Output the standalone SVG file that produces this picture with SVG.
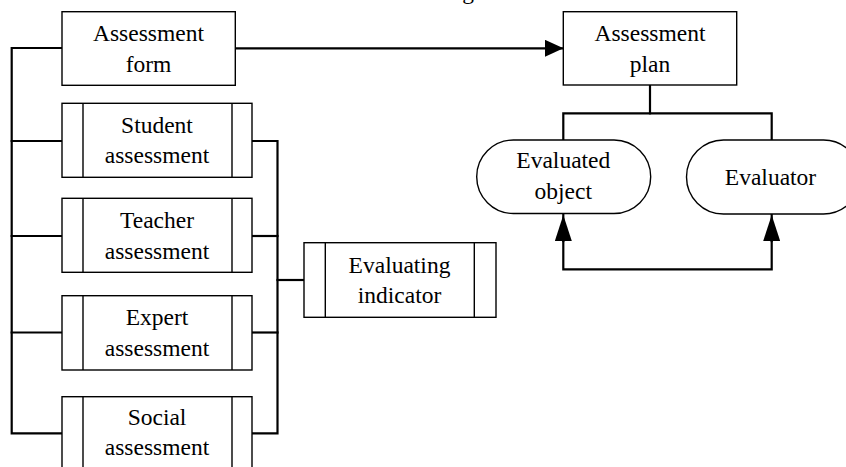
<svg xmlns="http://www.w3.org/2000/svg" width="846" height="467" viewBox="0 0 846 467">
  <style>
    .box { fill: #ffffff; stroke: #000000; stroke-width: 1.4; }
    .bar { fill: none; stroke: #000000; stroke-width: 1.4; }
    .wire { fill: none; stroke: #000000; stroke-width: 2.2; stroke-linejoin: miter; stroke-linecap: square; }
    .lbl { font-family: 'Liberation Serif', 'DejaVu Serif', serif; font-size: 23.5px; fill: #000000; text-anchor: middle; }
  </style>
  <defs>
    <marker id="arrowH" markerUnits="userSpaceOnUse" markerWidth="19" markerHeight="17" refX="18" refY="8.5" orient="auto">
      <path d="M0,0 L18.5,8.5 L0,17 Z" fill="#000000"/>
    </marker>
    <marker id="arrowV" markerUnits="userSpaceOnUse" markerWidth="27" markerHeight="17" refX="26" refY="8.5" orient="auto">
      <path d="M0,0 L26,8.5 L0,17 Z" fill="#000000"/>
    </marker>
  </defs>

  <rect width="846" height="467" fill="#ffffff"/>

  <!-- descender of the heading line above the frame -->
  <text class="lbl" x="468" y="-1" font-size="22">g</text>

  <g id="connectors">
    <!-- left bus: form and assessment types -->
    <path class="wire" d="M62,48 H11.7 V433.3 H62"/>
    <path class="wire" d="M11.7,141 H62"/>
    <path class="wire" d="M11.7,236 H62"/>
    <path class="wire" d="M11.7,332.5 H62"/>
    <!-- right bus to evaluating indicator -->
    <path class="wire" d="M252,141 H277.5 V433.3 H252"/>
    <path class="wire" d="M252,236 H277.5"/>
    <path class="wire" d="M252,332.5 H277.5"/>
    <path class="wire" d="M277.5,280 H304"/>
    <!-- form to plan -->
    <path class="wire" d="M235,48.3 H563" marker-end="url(#arrowH)"/>
    <!-- plan split -->
    <path class="wire" d="M650,85 V113.3"/>
    <path class="wire" d="M563.3,140 V113.3 H771.7 V140"/>
    <!-- feedback loop -->
    <path class="wire" d="M771.7,240 V269.3 H563.3 V240"/>
    <path class="wire" d="M563.3,241 V215" marker-end="url(#arrowV)"/>
    <path class="wire" d="M771.7,241 V215" marker-end="url(#arrowV)"/>
  </g>

  <g id="assessment-form">
    <rect class="box" x="62" y="11.7" width="173.3" height="73.6"/>
    <text class="lbl" x="148.5" y="40.7">Assessment</text>
    <text class="lbl" x="148.5" y="71.7">form</text>
  </g>

  <g id="student-assessment">
    <rect class="box" x="62" y="103.3" width="190" height="74"/>
    <path class="bar" d="M83,103.3 V177.3 M232,103.3 V177.3"/>
    <text class="lbl" x="157" y="132.7">Student</text>
    <text class="lbl" x="157" y="163.3">assessment</text>
  </g>

  <g id="teacher-assessment">
    <rect class="box" x="62" y="198.3" width="190" height="74"/>
    <path class="bar" d="M83,198.3 V272.3 M232,198.3 V272.3"/>
    <text class="lbl" x="157" y="228">Teacher</text>
    <text class="lbl" x="157" y="258.5">assessment</text>
  </g>

  <g id="expert-assessment">
    <rect class="box" x="62" y="295.7" width="190" height="74.3"/>
    <path class="bar" d="M83,295.7 V370 M232,295.7 V370"/>
    <text class="lbl" x="157" y="325">Expert</text>
    <text class="lbl" x="157" y="355.5">assessment</text>
  </g>

  <g id="social-assessment">
    <rect class="box" x="62" y="396.7" width="190" height="74"/>
    <path class="bar" d="M83,396.7 V470.7 M232,396.7 V470.7"/>
    <text class="lbl" x="157" y="425">Social</text>
    <text class="lbl" x="157" y="455">assessment</text>
  </g>

  <g id="evaluating-indicator">
    <rect class="box" x="304" y="242.7" width="192" height="74.6"/>
    <path class="bar" d="M325.3,242.7 V317.3 M474.3,242.7 V317.3"/>
    <text class="lbl" x="399.5" y="272.7">Evaluating</text>
    <text class="lbl" x="399.5" y="302.7">indicator</text>
  </g>

  <g id="assessment-plan">
    <rect class="box" x="563.3" y="11.7" width="173.4" height="73.3"/>
    <text class="lbl" x="650" y="40.7">Assessment</text>
    <text class="lbl" x="650" y="71.7">plan</text>
  </g>

  <g id="evaluated-object">
    <rect class="box" x="476.7" y="140" width="174" height="73.5" rx="36.7" ry="36.7"/>
    <text class="lbl" x="563.3" y="168.3">Evaluated</text>
    <text class="lbl" x="563.3" y="199.3">object</text>
  </g>

  <g id="evaluator">
    <rect class="box" x="686.5" y="140" width="174" height="74" rx="37" ry="37"/>
    <text class="lbl" x="770.5" y="185">Evaluator</text>
  </g>
</svg>
